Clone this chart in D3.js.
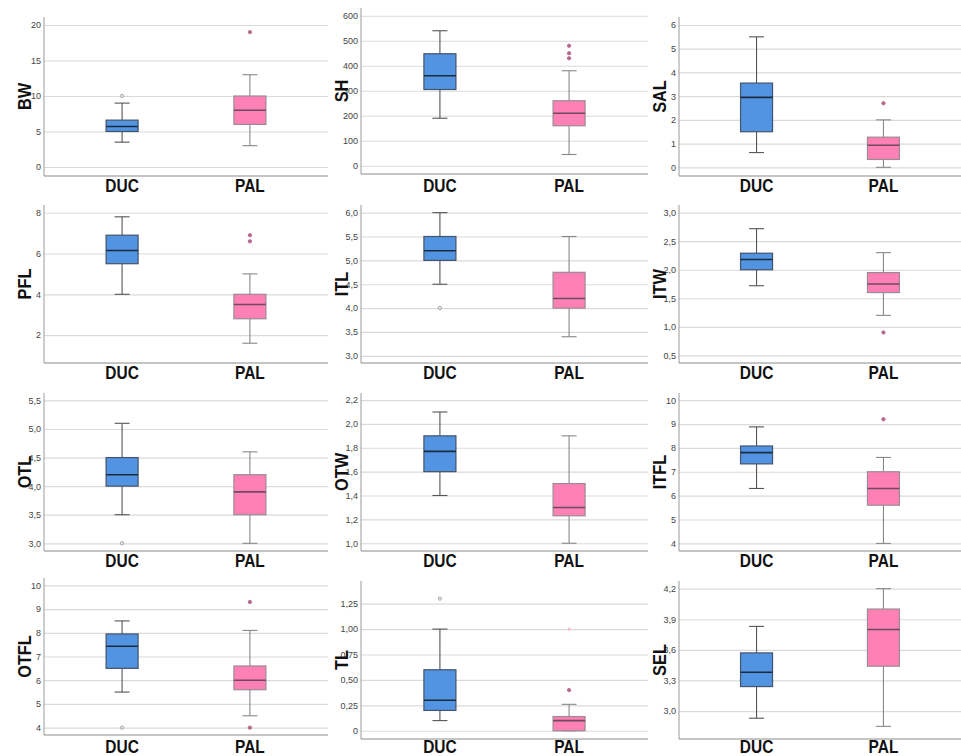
<!DOCTYPE html>
<html>
<head>
<meta charset="utf-8">
<title>Boxplots DUC / PAL</title>
<style>
  body { margin: 0; background: #fff; }
  svg text { font-family: "Liberation Sans", Arial, sans-serif; }
</style>
</head>
<body>
<main></main>
<script src="https://cdn.jsdelivr.net/npm/d3@7"></script>
<script>
// ---- data ----
var variables = ["BW", "SH", "SAL", "PFL", "ITL", "ITW", "OTL", "OTW", "ITFL", "OTFL", "TL", "SEL"];
var groups = ["DUC", "PAL"];

// [lower whisker, Q1, median, Q3, upper whisker]
var ducStats = [
    [3.5, 5, 5.7, 6.6, 9],
    [190, 305, 360, 448, 540],
    [0.62, 1.5, 2.95, 3.55, 5.5],
    [4, 5.5, 6.15, 6.9, 7.8],
    [4.5, 5.0, 5.2, 5.5, 6.0],
    [1.72, 2.0, 2.18, 2.29, 2.72],
    [3.5, 4.0, 4.2, 4.5, 5.1],
    [1.4, 1.6, 1.77, 1.9, 2.1],
    [6.3, 7.33, 7.8, 8.08, 8.88],
    [5.5, 6.5, 7.43, 7.95, 8.5],
    [0.1, 0.2, 0.3, 0.6, 1.0],
    [2.93, 3.24, 3.38, 3.57, 3.83]
];
var palStats = [
    [3, 6, 8, 10, 13],
    [45, 160, 210, 260, 380],
    [0, 0.33, 0.93, 1.27, 2.0],
    [1.6, 2.8, 3.5, 4.0, 5.0],
    [3.4, 4.0, 4.2, 4.75, 5.5],
    [1.2, 1.6, 1.75, 1.95, 2.3],
    [3.0, 3.5, 3.9, 4.2, 4.6],
    [1.0, 1.23, 1.3, 1.5, 1.9],
    [4.0, 5.6, 6.3, 7.0, 7.6],
    [4.5, 5.6, 6.0, 6.6, 8.1],
    [0, 0, 0.1, 0.14, 0.26],
    [2.85, 3.44, 3.8, 4.0, 4.2]
];
var ducOutliers = [[10], [], [], [], [4.0], [], [3.0], [], [], [4.0], [1.3], []];
var palOutliers = [[19], [430, 450, 480], [2.7], [6.6, 6.9], [], [0.9], [], [], [9.2], [9.3, 4.0], [0.4], []];
var palExtremes = [[], [], [], [], [], [], [], [], [], [], [1.0], []];

var yTicks = [
    [0, 5, 10, 15, 20],
    [0, 100, 200, 300, 400, 500, 600],
    [0, 1, 2, 3, 4, 5, 6],
    [2, 4, 6, 8],
    [3.0, 3.5, 4.0, 4.5, 5.0, 5.5, 6.0],
    [0.5, 1.0, 1.5, 2.0, 2.5, 3.0],
    [3.0, 3.5, 4.0, 4.5, 5.0, 5.5],
    [1.0, 1.2, 1.4, 1.6, 1.8, 2.0, 2.2],
    [4, 5, 6, 7, 8, 9, 10],
    [4, 5, 6, 7, 8, 9, 10],
    [0, 0.25, 0.5, 0.75, 1.0, 1.25],
    [3.0, 3.3, 3.6, 3.9, 4.2]
];
var tickDecimals = [0, 0, 0, 0, 1, 1, 1, 1, 0, 0, 2, 1];
var yDomains = [
    [-1.27, 21.13], [-33, 631], [-0.367, 6.337],
    [0.63, 8.38], [2.85, 6.16], [0.365, 3.135],
    [2.865, 5.63], [0.935, 2.259], [3.68, 10.3],
    [3.69, 10.31], [-0.081, 1.473], [2.726, 4.275]
];

// ---- layout ----
var width = 961, height = 756;
var colX = [[44, 328], [361, 648], [679, 961]];          // y-axis x, right edge
var panelY = [                                          // top, bottom of each plot
    [17, 176], [8, 174], [17, 176],
    [205, 363], [205, 363], [205, 363],
    [393, 551], [393, 551], [393, 551],
    [578, 735], [581, 739], [581, 739]
];
var labelY = [192, 379, 567, 753];
var boxW = 32, capW = 15;
var boldFont = "'Liberation Sans', Arial, sans-serif";

var style = {
    DUC: {fill: "#5294e2", stroke: "#44546a", median: "#1c2b3f", whisker: "#555"},
    PAL: {fill: "#ff80b5", stroke: "#9a8a92", median: "#6e4a5c", whisker: "#888"}
};

var svg = d3.select("main").append("svg")
    .attr("width", width)
    .attr("height", height);

variables.forEach(function (name, i) {
    var col = i % 3, row = Math.floor(i / 3);
    var x0 = colX[col][0], x1 = colX[col][1];
    var top = panelY[i][0], bottom = panelY[i][1];

    var x = d3.scalePoint().domain(groups).range([x0, x1]).padding(0.611);
    var y = d3.scaleLinear().domain(yDomains[i]).range([bottom, top]);

    var g = svg.append("g");
    var dec = tickDecimals[i];
    var fmt = function (v) {
        if (v === 0) return "0";
        return d3.format("." + dec + "f")(v).replace(".", ",");
    };

    // gridlines + tick labels
    var yAxis = d3.axisLeft(y).tickValues(yTicks[i]).tickSize(-(x1 - x0)).tickFormat(fmt).tickPadding(3);
    var ga = g.append("g").attr("transform", "translate(" + x0 + ",0)").call(yAxis);
    ga.select(".domain").remove();
    ga.selectAll(".tick line").attr("stroke", "#dadada").attr("stroke-width", 1.2);
    ga.selectAll(".tick text").attr("fill", "#444").attr("font-size", 9)
        .style("font-family", "'Liberation Sans', Arial, sans-serif");

    // axis lines
    g.append("line").attr("x1", x0).attr("x2", x0).attr("y1", top).attr("y2", bottom)
        .attr("stroke", "#9a9a9a");
    g.append("line").attr("x1", x0).attr("x2", x1).attr("y1", bottom).attr("y2", bottom)
        .attr("stroke", "#8a8a8a");

    var sets = [
        {grp: "DUC", s: ducStats[i], out: ducOutliers[i], ext: []},
        {grp: "PAL", s: palStats[i], out: palOutliers[i], ext: palExtremes[i]}
    ];

    sets.forEach(function (d) {
        var cx = x(d.grp), st = style[d.grp], s = d.s;
        // whiskers
        g.append("line").attr("x1", cx).attr("x2", cx).attr("y1", y(s[0])).attr("y2", y(s[1]))
            .attr("stroke", st.whisker).attr("stroke-width", 1.1);
        g.append("line").attr("x1", cx).attr("x2", cx).attr("y1", y(s[3])).attr("y2", y(s[4]))
            .attr("stroke", st.whisker).attr("stroke-width", 1.1);
        [s[0], s[4]].forEach(function (v) {
            g.append("line").attr("x1", cx - capW / 2).attr("x2", cx + capW / 2)
                .attr("y1", y(v)).attr("y2", y(v))
                .attr("stroke", st.whisker).attr("stroke-width", 1.1);
        });
        // box
        g.append("rect").attr("x", cx - boxW / 2).attr("width", boxW)
            .attr("y", y(s[3])).attr("height", Math.max(0, y(s[1]) - y(s[3])))
            .attr("fill", st.fill).attr("stroke", st.stroke).attr("stroke-width", 1.2);
        // median
        g.append("line").attr("x1", cx - boxW / 2).attr("x2", cx + boxW / 2)
            .attr("y1", y(s[2])).attr("y2", y(s[2]))
            .attr("stroke", st.median).attr("stroke-width", 1.6);
        // outliers
        g.selectAll(null).data(d.out).enter().append("circle")
            .attr("cx", cx).attr("cy", function (v) { return y(v); })
            .attr("r", 1.7)
            .attr("fill", d.grp === "DUC" ? "#e4e4e4" : "#b5678c")
            .attr("stroke", d.grp === "DUC" ? "#999" : "#b5678c")
            .attr("stroke-width", 0.8);
        g.selectAll(null).data(d.ext).enter().append("circle")
            .attr("cx", cx).attr("cy", function (v) { return y(v); })
            .attr("r", 1.6).attr("fill", "#f7b9d0");
    });

    // group labels (slightly condensed bold, like Arial Narrow)
    g.selectAll(null).data(groups).enter().append("text")
        .attr("transform", function (k) {
            return "translate(" + x(k) + "," + labelY[row] + ") scale(0.86,1)";
        })
        .attr("text-anchor", "middle")
        .attr("font-size", 18)
        .attr("font-weight", "bold")
        .style("font-family", boldFont)
        .attr("fill", "#111")
        .text(function (k) { return k; });

    // variable title
    g.append("text")
        .attr("transform", "translate(" + (x0 - 13) + "," + ((top + bottom) / 2) + ") rotate(-90) scale(0.86,1)")
        .attr("text-anchor", "middle")
        .attr("font-size", 19)
        .attr("font-weight", "bold")
        .style("font-family", boldFont)
        .attr("fill", "#111")
        .text(name);
});
</script>
</body>
</html>
